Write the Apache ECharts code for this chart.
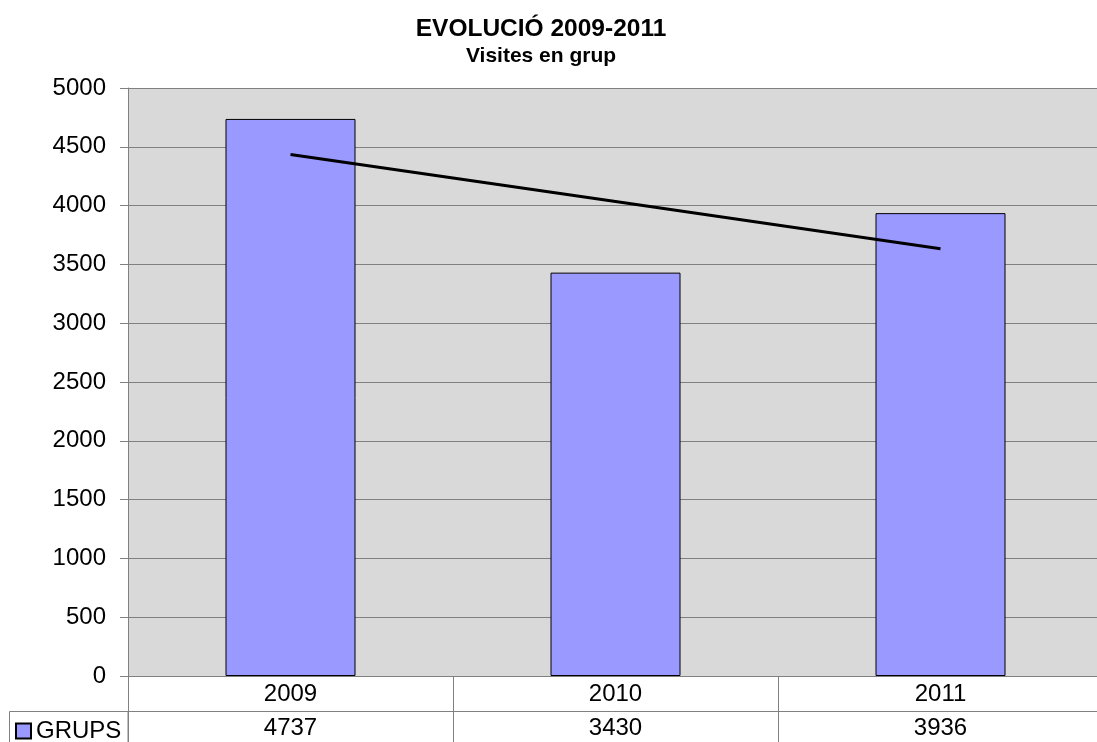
<!DOCTYPE html>
<html>
<head>
<meta charset="utf-8">
<script src="https://cdn.jsdelivr.net/npm/echarts@6/dist/echarts.min.js"></script>
<style>
html,body{margin:0;padding:0;background:#fff;}
#chart{width:1097px;height:742px;}
</style>
</head>
<body>
<div id="chart"></div>
<script>
const years = ['2009', '2010', '2011'];
const grups = [4737, 3430, 3936];
const trend = [4435, 4034, 3634];
const yTicks = { min: 0, max: 5000, interval: 500 };
const seriesName = 'GRUPS';

const font = '"Liberation Sans", Arial, sans-serif';
const chart = echarts.init(document.getElementById('chart'), null, { renderer: 'canvas' });
chart.setOption({
  animation: false,
  backgroundColor: '#ffffff',
  textStyle: { fontFamily: font },
  title: {
    text: 'EVOLUCIÓ 2009-2011',
    subtext: 'Visites en grup',
    left: 536,
    textAlign: 'center',
    top: 12,
    itemGap: 4,
    textStyle: { fontFamily: font, fontSize: 24.5, fontWeight: 'bold', color: '#000' },
    subtextStyle: { fontFamily: font, fontSize: 21, fontWeight: 'bold', color: '#000' }
  },
  legend: {
    data: [seriesName],
    left: 10,
    top: 714,
    itemWidth: 15,
    itemHeight: 15,
    itemGap: 4,
    icon: 'rect',
    textStyle: { fontFamily: font, fontSize: 24, color: '#000', padding: [0, 0, 0, 0] }
  },
  grid: { left: 128, width: 975, top: 88, bottom: 66, show: true, backgroundColor: '#d9d9d9', borderWidth: 0, outerBoundsMode: 'none', containLabel: false },
  xAxis: [
    {
      type: 'category',
      data: years,
      position: 'bottom',
      axisLine: { show: true, lineStyle: { color: '#808080', width: 1 } },
      axisTick: { show: true, inside: false, length: 66, lineStyle: { color: '#808080', width: 1 } },
      axisLabel: { color: '#000', fontSize: 24, fontFamily: font, margin: 6 }
    },
    {
      type: 'category',
      data: grups.map(String),
      position: 'bottom',
      offset: 35,
      axisLine: { show: true, lineStyle: { color: '#808080', width: 1 } },
      axisTick: { show: false },
      axisLabel: { color: '#000', fontSize: 24, fontFamily: font, margin: 5 }
    }
  ],
  yAxis: {
    type: 'value',
    min: yTicks.min,
    max: yTicks.max,
    interval: yTicks.interval,
    axisLine: { show: true, lineStyle: { color: '#808080', width: 1 } },
    axisTick: { show: true, inside: false, length: 8, lineStyle: { color: '#808080' } },
    axisLabel: { color: '#000', fontSize: 24, fontFamily: font, margin: 22, formatter: v => String(v) },
    splitLine: { show: true, lineStyle: { color: '#808080', width: 1 } }
  },
  graphic: [
    { type: 'rect', shape: { x: 9.5, y: 711.5, width: 118.5, height: 40 }, style: { fill: null, stroke: '#808080', lineWidth: 1 }, silent: true }
  ],
  series: [
    {
      name: seriesName,
      type: 'bar',
      data: grups,
      barWidth: '40%',
      itemStyle: { color: '#9999ff', borderColor: '#000', borderWidth: 1 }
    },
    {
      name: 'trend',
      type: 'line',
      data: trend,
      symbol: 'none',
      z: 5,
      lineStyle: { color: '#000', width: 3 }
    }
  ]
});
</script>
</body>
</html>
